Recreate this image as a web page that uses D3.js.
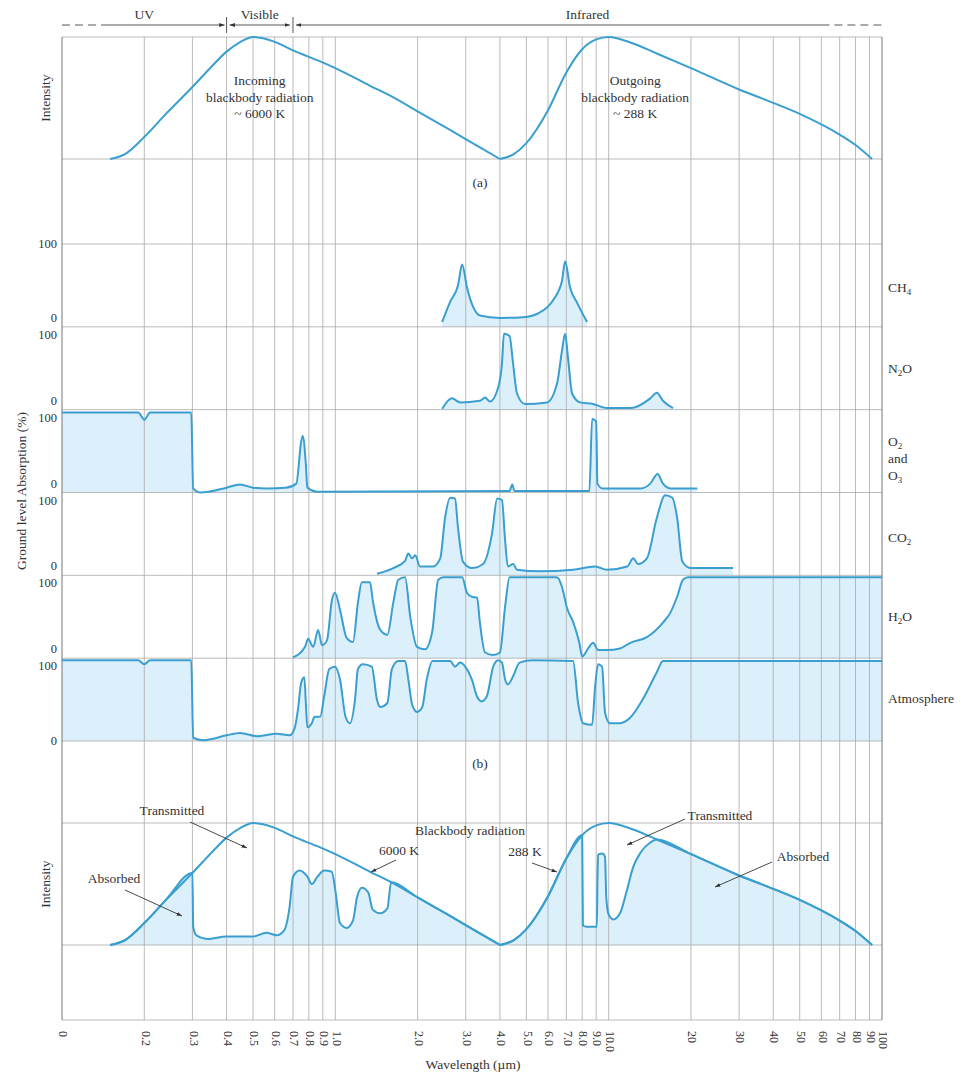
<!DOCTYPE html>
<html lang="en">
<head>
<meta charset="UTF-8">
<title>Blackbody radiation and ground level absorption</title>
<script src="https://d3js.org/d3.v7.min.js"></script>
<style>
  body { margin: 0; background: #fff; }
  svg { display: block; font-family: "Liberation Serif", "DejaVu Serif", serif; }
</style>
</head>
<body>
<svg id="chart" width="961" height="1074"></svg>
<script>
// wavelength ticks (µm) and their printed labels
const tickValues = [0.1, 0.2, 0.3, 0.4, 0.5, 0.6, 0.7, 0.8, 0.9, 1, 2, 3, 4, 5, 6, 7, 8, 9, 10,
  20, 30, 40, 50, 60, 70, 80, 90, 100];
const tickLabels = ["0", "0.2", "0.3", "0.4", "0.5", "0.6", "0.7", "0.8", "0.9", "1.0", "2.0", "3.0",
  "4.0", "5.0", "6.0", "7.0", "8.0", "9.0", "10.0", "20", "30", "40", "50", "60", "70", "80", "90", "100"];

// spectral regions [name, from, to]
const regions = [["UV", 0.1, 0.4], ["Visible", 0.4, 0.7], ["Infrared", 0.7, 100]];

// blackbody intensity, relative to peak  [wavelength, intensity]
const incoming = [[0.15, 0], [0.17, 0.04], [0.2, 0.18], [0.24, 0.37], [0.3, 0.59], [0.35, 0.75],
  [0.4, 0.88], [0.45, 0.96], [0.5, 1.0], [0.6, 0.96], [0.7, 0.89], [0.88, 0.80], [1.0, 0.745],
  [1.34, 0.60], [1.6, 0.515], [2.0, 0.39], [2.6, 0.245], [3.38, 0.095], [4.0, 0]];
const outgoing = [[4.0, 0], [4.5, 0.04], [5.0, 0.13], [6.0, 0.40], [7.0, 0.71], [8.0, 0.90],
  [9.0, 0.98], [10, 1.0], [12, 0.955], [15, 0.865], [20, 0.745], [30, 0.57], [40, 0.46], [50, 0.37],
  [70, 0.20], [80, 0.115], [92, 0]];

// ground level absorption (%)  [wavelength, absorption]
const ch4 = [[2.46, 6], [2.63, 31], [2.81, 51], [2.91, 77], [3.03, 49], [3.19, 25], [3.38, 14], [4.0, 11],
  [4.86, 12], [5.61, 18], [6.26, 33], [6.75, 57], [6.93, 81], [7.22, 49], [7.66, 30], [8.34, 6]];
const n2o = [[2.46, 1], [2.67, 14], [2.86, 9], [3.38, 11], [3.53, 15], [3.68, 10], [3.94, 27], [4.07, 57],
  [4.14, 94], [4.34, 91], [4.47, 57], [4.62, 20], [4.94, 7], [5.95, 9], [6.47, 32], [6.75, 73], [6.93, 94],
  [7.10, 64], [7.35, 20], [7.86, 9], [8.77, 7], [9.86, 2], [12.0, 2], [14.2, 14], [15.0, 21], [15.8, 11], [17.2, 2]];
const o2o3 = [[0.1, 99], [0.19, 99], [0.2, 90], [0.21, 99], [0.297, 99], [0.302, 5], [0.32, 0], [0.4, 6],
  [0.448, 10], [0.5, 6], [0.56, 5], [0.66, 6], [0.72, 11], [0.75, 63], [0.76, 70], [0.78, 35], [0.79, 6],
  [0.86, 1], [4.34, 2], [4.44, 10], [4.52, 2], [8.5, 2], [8.7, 91], [9.0, 88], [9.1, 11], [9.5, 5],
  [13.1, 5], [14.2, 11], [15.1, 23], [15.8, 11], [16.9, 5], [21.1, 5]];
const co2 = [[1.42, 2], [1.63, 9], [1.80, 18], [1.85, 27], [1.91, 21], [1.96, 25], [2.04, 11], [2.28, 11],
  [2.42, 21], [2.52, 71], [2.63, 96], [2.74, 95], [2.81, 59], [2.93, 17], [3.16, 9], [3.47, 14], [3.74, 51],
  [3.91, 95], [4.07, 93], [4.18, 43], [4.28, 11], [4.47, 14], [4.62, 7], [5.57, 5], [7.41, 7], [8.92, 11],
  [9.86, 7], [11.7, 11], [12.3, 21], [12.8, 14], [13.8, 21], [15.0, 71], [16.1, 99], [17.1, 96], [17.8, 71],
  [18.6, 17], [19.9, 9], [28.5, 9]];
const h2o = [[0.70, 1], [0.775, 14], [0.795, 24], [0.83, 14], [0.865, 35], [0.894, 16], [0.932, 22],
  [0.972, 72], [0.997, 81], [1.04, 60], [1.10, 25], [1.16, 20], [1.21, 69], [1.25, 94], [1.34, 94],
  [1.37, 72], [1.46, 35], [1.55, 29], [1.63, 69], [1.70, 97], [1.80, 100], [1.88, 51], [1.99, 14],
  [2.13, 11], [2.26, 32], [2.38, 97], [2.48, 100], [2.91, 100], [3.03, 81], [3.16, 76], [3.30, 75],
  [3.38, 44], [3.53, 7], [3.78, 4], [4.0, 7], [4.18, 64], [4.34, 100], [6.47, 100], [6.75, 88], [7.04, 62],
  [7.41, 45], [7.8, 20], [8.0, 2], [8.41, 12], [8.77, 19], [9.15, 10], [9.86, 10], [11.0, 12], [12.0, 19],
  [13.8, 26], [15.8, 44], [16.8, 56], [17.8, 76], [18.7, 97], [19.5, 100], [100, 100]];
const atmosphere = [[0.1, 100], [0.19, 100], [0.2, 95], [0.21, 100], [0.297, 100], [0.302, 4], [0.328, 1],
  [0.4, 7], [0.448, 10], [0.516, 6], [0.61, 9], [0.68, 7], [0.71, 16], [0.73, 39], [0.75, 72], [0.77, 79],
  [0.78, 47], [0.79, 17], [0.82, 22], [0.84, 30], [0.88, 30], [0.91, 55], [0.95, 89], [0.997, 92],
  [1.04, 76], [1.09, 30], [1.13, 22], [1.18, 51], [1.21, 89], [1.26, 95], [1.36, 92], [1.42, 51],
  [1.46, 42], [1.55, 47], [1.61, 89], [1.70, 99], [1.80, 99], [1.85, 76], [1.91, 45], [1.99, 36],
  [2.08, 42], [2.16, 76], [2.27, 99], [2.63, 99], [2.74, 92], [2.86, 97], [3.0, 91], [3.16, 76],
  [3.30, 55], [3.43, 49], [3.58, 55], [3.78, 92], [3.94, 100], [4.07, 97], [4.18, 76], [4.28, 70],
  [4.47, 80], [4.72, 97], [5.27, 100], [7.41, 99], [7.73, 47], [8.06, 22], [8.70, 20], [8.92, 67],
  [9.15, 95], [9.46, 92], [9.70, 35], [10.1, 22], [11.0, 22], [12.0, 29], [13.3, 51], [15.0, 85],
  [15.8, 99], [16.9, 99], [100, 99]];

// absorbed part of the blackbody curves in the lower panel  [wavelength, intensity]
const absorbedIn = [[0.302, 0.15], [0.31, 0.08], [0.34, 0.05], [0.4, 0.07], [0.5, 0.07], [0.56, 0.10],
  [0.61, 0.08], [0.65, 0.12], [0.68, 0.31], [0.70, 0.56], [0.74, 0.61], [0.79, 0.56], [0.82, 0.50],
  [0.86, 0.56], [0.91, 0.61], [0.97, 0.60], [1.0, 0.45], [1.04, 0.18], [1.10, 0.14], [1.16, 0.20],
  [1.20, 0.39], [1.25, 0.47], [1.32, 0.43], [1.37, 0.29], [1.46, 0.26], [1.55, 0.30]];
const absorbedOut = [[8.05, 0.16], [8.3, 0.15], [9.05, 0.15], [9.1, 0.53], [9.15, 0.74], [9.5, 0.75],
  [9.7, 0.72], [9.8, 0.39], [10.0, 0.25], [10.4, 0.21], [11.0, 0.26], [11.6, 0.43], [12.3, 0.64],
  [13.1, 0.76], [14.2, 0.84]];

const gasNames = ["CH4", "N2O", "O2O3", "CO2", "H2O", "Atmosphere"];
const gasSeries = [ch4, n2o, o2o3, co2, h2o, atmosphere];

// ---------------------------------------------------------------
const svg = d3.select("#chart");
const blue = "#3a9fd0", fillBlue = "#dcf0fb", grid = "#a9a9a9", ink = "#333";
const fs = 13.5;

const x = d3.scaleLog().domain([0.1, 100]).range([62, 882]);
const panelA = { y0: 159, y1: 37 };
const panelC = { y0: 945, y1: 823 };
const frameBottom = 1020;
const band = d3.scaleBand().domain(gasNames).range([244, 741]);

const yTop = d3.scaleLinear().domain([0, 1]).range([panelA.y0, panelA.y1]);
const yBot = d3.scaleLinear().domain([0, 1]).range([panelC.y0, panelC.y1]);
const yGas = name => d3.scaleLinear().domain([0, 100])
  .range([band(name) + band.bandwidth(), band(name) + 2]);

const curve = d3.curveMonotoneX;
const lineOf = y => d3.line().x(d => x(d[0])).y(d => y(d[1])).curve(curve);
const areaOf = (y, base) => d3.area().x(d => x(d[0])).y0(base).y1(d => y(d[1])).curve(curve);

// fills first
gasNames.forEach((name, i) => {
  const y = yGas(name);
  svg.append("path").datum(gasSeries[i])
    .attr("d", areaOf(y, band(name) + band.bandwidth()))
    .attr("fill", fillBlue);
});

const absorbedLeft = [...incoming.filter(d => d[0] <= 0.3), ...absorbedIn, ...incoming.filter(d => d[0] >= 1.6)];
const absorbedRight = [...outgoing.filter(d => d[0] <= 8), ...absorbedOut, ...outgoing.filter(d => d[0] >= 15)];
[absorbedLeft, absorbedRight].forEach(s => {
  svg.append("path").datum(s).attr("d", areaOf(yBot, panelC.y0)).attr("fill", fillBlue);
});

// grid
const g = svg.append("g").attr("stroke", grid).attr("stroke-width", 0.8);
g.selectAll("line.v").data(tickValues.slice(1, -1)).join("line")
  .attr("x1", d => x(d)).attr("x2", d => x(d))
  .attr("y1", panelA.y1).attr("y2", frameBottom);
const hLines = [panelA.y1, panelA.y0, ...gasNames.map(n => band(n)), band.range()[1], panelC.y1, panelC.y0, frameBottom];
g.selectAll("line.h").data(hLines).join("line")
  .attr("x1", x.range()[0]).attr("x2", x.range()[1])
  .attr("y1", d => d).attr("y2", d => d);
svg.append("g").attr("stroke", "#777").attr("stroke-width", 1)
  .selectAll("line").data(x.range()).join("line")
  .attr("x1", d => d).attr("x2", d => d).attr("y1", panelA.y1).attr("y2", frameBottom);

// curves
const stroke = (data, y) => svg.append("path").datum(data).attr("d", lineOf(y))
  .attr("fill", "none").attr("stroke", blue).attr("stroke-width", 2).attr("stroke-linejoin", "round");
[incoming, outgoing].forEach(s => { stroke(s, yTop); stroke(s, yBot); });
gasNames.forEach((name, i) => stroke(gasSeries[i], yGas(name)));
stroke(absorbedLeft, yBot);
stroke(absorbedRight, yBot);

// text helpers
const text = (tx, ty, str, opts = {}) => svg.append("text")
  .attr("x", tx).attr("y", ty).attr("fill", ink)
  .attr("font-size", opts.size || fs)
  .attr("text-anchor", opts.anchor || "middle")
  .text(str);

// header with spectral regions
const defs = svg.append("defs");
defs.append("marker").attr("id", "ah").attr("viewBox", "0 0 10 10")
  .attr("refX", 10).attr("refY", 5).attr("markerWidth", 6).attr("markerHeight", 6)
  .attr("orient", "auto-start-reverse")
  .append("path").attr("d", "M0,1.5L10,5L0,8.5Z").attr("fill", "#333");

const hy = 25;
const hdr = svg.append("g").attr("stroke", "#444").attr("stroke-width", 0.9).attr("fill", "none");
hdr.append("line").attr("x1", x(0.1)).attr("x2", x(0.145)).attr("y1", hy).attr("y2", hy).attr("stroke-dasharray", "8,5");
hdr.append("line").attr("x1", x(0.145)).attr("x2", x(0.4) - 2).attr("y1", hy).attr("y2", hy).attr("marker-end", "url(#ah)");
hdr.append("line").attr("x1", x(0.4) + 3).attr("x2", x(0.7) - 3).attr("y1", hy).attr("y2", hy)
  .attr("marker-start", "url(#ah)").attr("marker-end", "url(#ah)");
hdr.append("line").attr("x1", x(0.7) + 3).attr("x2", x(60)).attr("y1", hy).attr("y2", hy).attr("marker-start", "url(#ah)");
hdr.append("line").attr("x1", x(60)).attr("x2", x(100)).attr("y1", hy).attr("y2", hy).attr("stroke-dasharray", "8,5");
[0.4, 0.7].forEach(v => hdr.append("line").attr("x1", x(v)).attr("x2", x(v)).attr("y1", 17).attr("y2", 33));
regions.forEach(([name, a, b]) => text(x(Math.sqrt(a * b)), 19, name));

// panel (a) labels
text(x(0.529), 85, "Incoming");
text(x(0.529), 102, "blackbody radiation");
text(x(0.529), 118, "~ 6000 K");
text(x(12.5), 85, "Outgoing");
text(x(12.5), 102, "blackbody radiation");
text(x(12.5), 118, "~ 288 K");
text(480, 187, "(a)");
text(480, 768, "(b)");

const vtext = (tx, ty, str) => svg.append("text")
  .attr("transform", `translate(${tx},${ty}) rotate(-90)`)
  .attr("text-anchor", "middle").attr("fill", ink).attr("font-size", fs).text(str);
vtext(50, 98, "Intensity");
vtext(50, 884, "Intensity");
vtext(26, 491, "Ground level Absorption (%)");

// band value labels
gasNames.forEach((name, i) => {
  const t = band(name), b = t + band.bandwidth();
  text(57, i === 0 ? t + 4 : t + 12, "100", { anchor: "end", size: 12.5 });
  text(57, i === gasNames.length - 1 ? b + 4 : b - 5, "0", { anchor: "end", size: 12.5 });
});

// gas names with subscripts
const gasLabel = (name, lines, shift = 0) => {
  const cy = band(name) + band.bandwidth() / 2 + shift;
  lines.forEach((parts, k) => {
    const t = svg.append("text").attr("x", 888).attr("y", cy + 5 + (k - (lines.length - 1) / 2) * 17)
      .attr("fill", ink).attr("font-size", fs);
    parts.forEach(p => {
      if (typeof p === "string") t.append("tspan").text(p);
      else {
        t.append("tspan").attr("font-size", 9).attr("dy", 3).text(p[0]);
        if (p[1]) t.append("tspan").attr("dy", -3).text(p[1]);
      }
    });
  });
};
gasLabel("CH4", [["CH", ["4"]]], 2);
gasLabel("N2O", [["N", ["2", "O"]]]);
gasLabel("O2O3", [["O", ["2"]], ["and"], ["O", ["3"]]], 7);
gasLabel("CO2", [["CO", ["2"]]], 3);
gasLabel("H2O", [["H", ["2", "O"]]], -1);
gasLabel("Atmosphere", [["Atmosphere"]], -2);

// lower panel annotations
const arrow = (x1, y1, x2, y2) => svg.append("line")
  .attr("x1", x1).attr("y1", y1).attr("x2", x2).attr("y2", y2)
  .attr("stroke", "#333").attr("stroke-width", 0.9).attr("marker-end", "url(#ah)");
text(172, 815, "Transmitted");
arrow(190, 822, 247, 848);
text(114, 883, "Absorbed");
arrow(125, 890, 182, 916);
text(470, 835, "Blackbody radiation");
text(399, 855, "6000 K");
arrow(396, 860, 371, 872);
text(525, 856, "288 K");
arrow(532, 863, 557, 872);
text(720, 820, "Transmitted");
arrow(685, 819, 627, 845);
text(803, 861, "Absorbed");
arrow(772, 862, 715, 887);

// wavelength axis labels
svg.append("g").selectAll("text").data(tickValues).join("text")
  .attr("transform", d => `translate(${x(d)},1031) rotate(90)`)
  .attr("dominant-baseline", "middle").attr("fill", ink).attr("font-size", 12)
  .text((d, i) => tickLabels[i]);
text(473, 1069, "Wavelength (µm)");
</script>
</body>
</html>
